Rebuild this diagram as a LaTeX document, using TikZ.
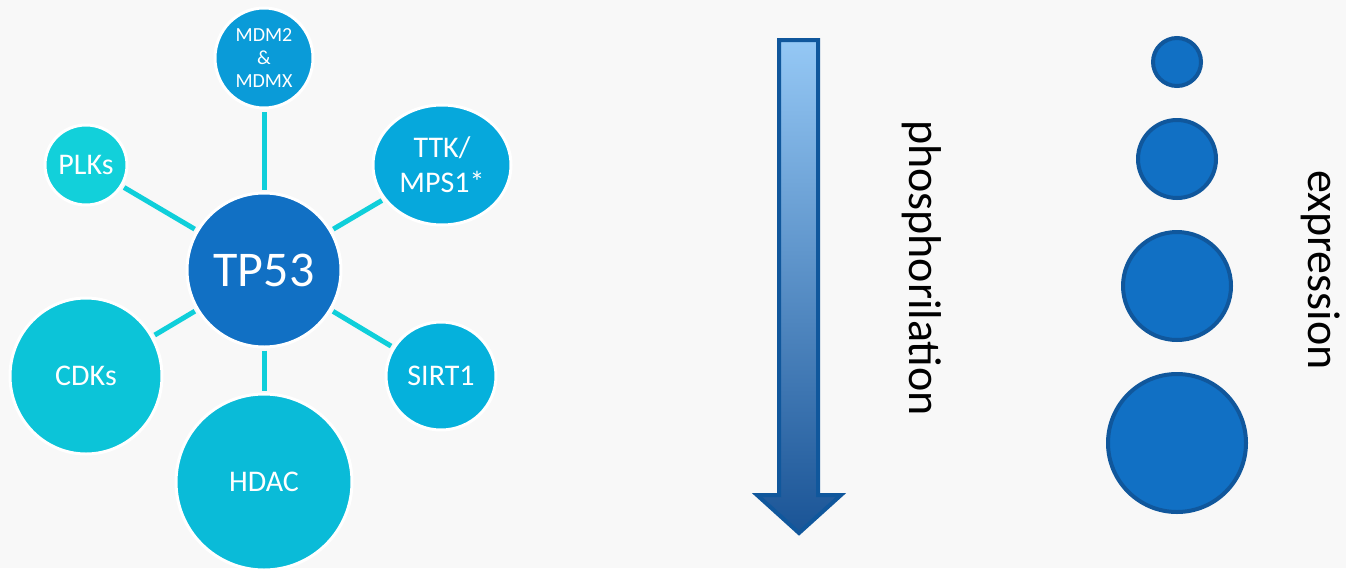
\documentclass[tikz,border=0pt]{standalone}
\usepackage{fontspec}
\setmainfont{Carlito}
\usetikzlibrary{shapes.geometric}
\definecolor{bg}{HTML}{F8F8F8}
\definecolor{tpblue}{HTML}{1170C4}
\definecolor{darkedge}{HTML}{10579C}
\definecolor{cmdm}{HTML}{0A9BD8}
\definecolor{cttk}{HTML}{06A8DC}
\definecolor{cplk}{HTML}{12D0DA}
\definecolor{ccdk}{HTML}{0CC4D8}
\definecolor{chdac}{HTML}{0ABBD8}
\definecolor{csirt}{HTML}{05B1DC}
\definecolor{link}{HTML}{0FCFDA}
\definecolor{arrtop}{HTML}{95C8F5}
\definecolor{arrbot}{HTML}{1A5496}
\tikzset{
  bubble/.style={ellipse, draw=white, line width=3pt, inner sep=0pt, text=white, align=center,
    font=\fontsize{30}{35}\selectfont},
  conn/.style={draw=link, line width=5pt, shorten >=2pt, shorten <=2pt},
  expr/.style={circle, draw=darkedge, line width=4pt, fill=tpblue, inner sep=0pt},
  sidelabel/.style={rotate=-90, anchor=base, font=\fontsize{46}{50}\selectfont, text=black}
}
\begin{document}
\begin{tikzpicture}[x=1pt,y=-1pt]
\useasboundingbox (0,0) rectangle (1346,568);
\clip (0,0) rectangle (1346,568);
\fill[bg] (0,0) rectangle (1346,568);
% network
\node[bubble, fill=tpblue, minimum width=154, minimum height=154, font=\fontsize{50}{60}\selectfont] (tp) at (264,270) {TP53};
\node[bubble, fill=cmdm, minimum width=98, minimum height=100, font=\fontsize{20}{23}\selectfont] (mdm) at (264,58) {MDM2\\\&\\MDMX};
\node[bubble, fill=cttk, minimum width=138, minimum height=120] (ttk) at (442,165) {TTK/\\MPS1*};
\node[bubble, fill=cplk, minimum width=82, minimum height=80] (plk) at (86,165) {PLKs};
\node[bubble, fill=ccdk, minimum width=152, minimum height=156] (cdk) at (86,376) {CDKs};
\node[bubble, fill=chdac, minimum width=176, minimum height=176] (hdac) at (264,482) {HDAC};
\node[bubble, fill=csirt, minimum width=110, minimum height=108] (sirt) at (441,376) {SIRT1};
\draw[conn] (tp) -- (mdm);
\draw[conn] (tp) -- (ttk);
\draw[conn] (tp) -- (plk);
\draw[conn] (tp) -- (cdk);
\draw[conn] (tp) -- (hdac);
\draw[conn] (tp) -- (sirt);
% gradient arrow
\shade[top color=arrtop, bottom color=arrbot, draw=darkedge, line width=4pt, line join=miter]
  (779,40) -- (818,40) -- (818,495) -- (841,495) -- (799,533) -- (757,495) -- (779,495) -- cycle;
\node[sidelabel] (phos) at (909,268) {phosphorilation};
% expression circles
\node[expr, minimum size=48] (e1) at (1177,62) {};
\node[expr, minimum size=78] (e2) at (1177,159) {};
\node[expr, minimum size=108] (e3) at (1177,286) {};
\node[expr, minimum size=138] (e4) at (1177,443) {};
\node[sidelabel] (expr) at (1308,270) {expression};
\end{tikzpicture}
\end{document}
